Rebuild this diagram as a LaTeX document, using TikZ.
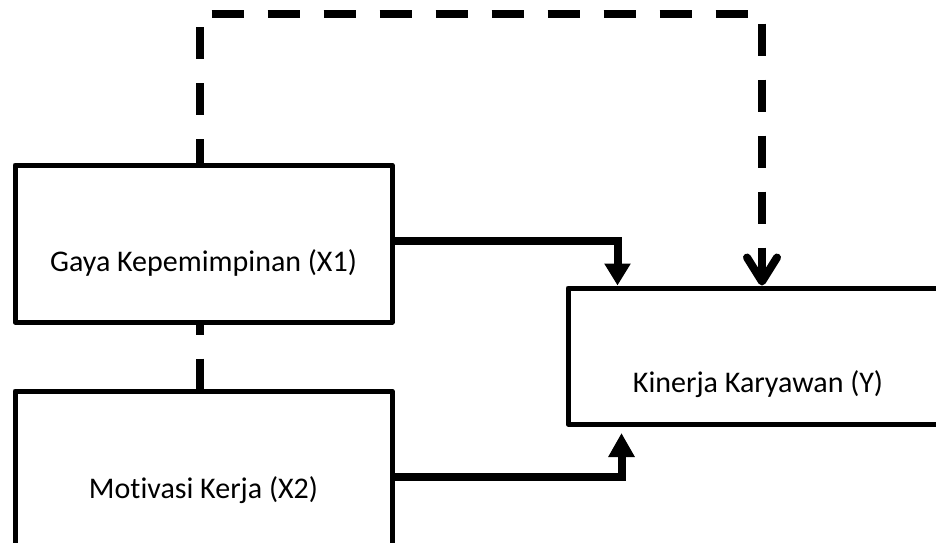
\documentclass[tikz,border=0pt]{standalone}
\usepackage{fontspec}
\setmainfont{Carlito}[Ligatures={NoCommon}]
\usetikzlibrary{arrows.meta,calc}
\begin{document}
\begin{tikzpicture}[x=1pt,y=-1pt,
  box/.style={draw,line width=5pt,line join=round,rectangle,inner sep=0pt,
    font=\fontsize{30}{36}\selectfont,text depth=0pt},
  conn/.style={line width=8pt},
  dashconn/.style={line width=8pt,dash pattern=on 32pt off 24pt}]
\useasboundingbox (0,0) rectangle (936,542);
\clip (0,0) rectangle (936,542);
\node[box,minimum width=377pt,minimum height=157pt,text height=55pt] (x1) at (203.5,243.5) {Gaya Kepemimpinan (X1)};
\node[box,minimum width=377pt,minimum height=158pt,text height=56pt] (x2) at (203.5,470) {Motivasi Kerja (X2)};
\node[box,minimum width=380pt,minimum height=136pt,text height=72pt] (y) at (758,356) {Kinerja Karyawan (Y)};
\coordinate (top) at (0,14);
\coordinate (d0) at ([xshift=-3.5pt]x1.north);
\coordinate (d1) at ($(y.north)+(4,0)$);
% solid arrows
\draw[conn,-{Triangle[length=22pt,width=25pt]}] ([yshift=2.5pt]x1.east) -| ($(y.north west)+(52,0)$);
\draw[conn,-{Triangle[length=24pt,width=25pt]},shorten >=6.5pt] ([yshift=-7pt]x2.east) -| ($(y.south west)+(56,0)$);
% dashed path
\draw[dashconn,dash phase=8pt,-{Straight Barb[length=24pt,width=30pt,line cap=round,line join=round]}]
  (d0) -- (d0 |- top) -| (d1);
\draw[dashconn,dash phase=22pt] (d0 |- x1.south) -- (d0 |- x2.north);
\end{tikzpicture}
\end{document}
